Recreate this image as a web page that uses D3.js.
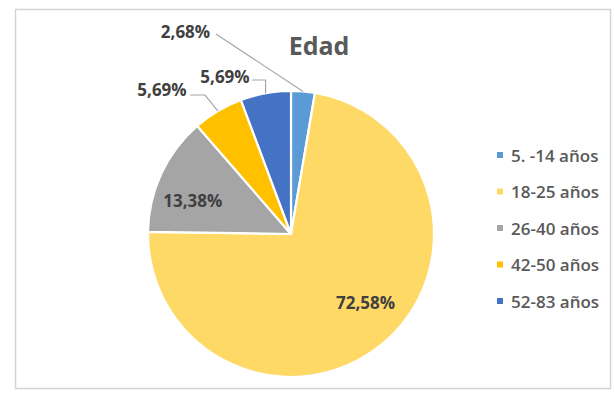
<!DOCTYPE html>
<html>
<head>
<meta charset="utf-8">
<script src="https://cdn.jsdelivr.net/npm/d3@7"></script>
<style>
  html, body { margin: 0; padding: 0; background: #fff; }
  svg { display: block; font-family: "Open Sans", "Noto Sans", sans-serif; }
</style>
</head>
<body>
<svg id="chart" width="615" height="394"></svg>
<script>
// Age groups and their share of respondents (%)
const categories = ["5. -14 años", "18-25 años", "26-40 años", "42-50 años", "52-83 años"];
const values = [2.68, 72.58, 13.38, 5.69, 5.69];
const labels = ["2,68%", "72,58%", "13,38%", "5,69%", "5,69%"];
const colors = ["#5B9BD5", "#FFD966", "#A5A5A5", "#FFC000", "#4472C4"];
const title = "Edad";

const svg = d3.select("#chart");
const W = 615, H = 394;

// chart frame
svg.append("rect").attr("x", 0).attr("y", 0).attr("width", W).attr("height", H).attr("fill", "#fff");
svg.append("rect")
  .attr("x", 15.5).attr("y", 9.5).attr("width", 595).attr("height", 379)
  .attr("fill", "#fff").attr("stroke", "#d4d4d4").attr("stroke-width", 1.5);

// title
svg.append("text")
  .attr("x", 319).attr("y", 55)
  .attr("text-anchor", "middle")
  .attr("font-size", 25).attr("font-weight", 700)
  .attr("fill", "#595959")
  .text(title);

const cx = 291, cy = 234, R = 143;
const g = svg.append("g").attr("transform", `translate(${cx},${cy})`);

const data = categories.map((c, i) => ({ cat: c, value: values[i], label: labels[i], color: colors[i] }));
const pie = d3.pie().value(d => d.value).sort(null);
const arcs = pie(data);
const arc = d3.arc().innerRadius(0).outerRadius(R);

g.selectAll("path.slice")
  .data(arcs)
  .join("path")
  .attr("class", "slice")
  .attr("d", arc)
  .attr("fill", d => d.data.color)
  .attr("stroke", "#fff")
  .attr("stroke-width", 2.2)
  .attr("stroke-linejoin", "round");

// point on the slice edge at its middle angle
function edgePoint(a, r) {
  const m = (a.startAngle + a.endAngle) / 2;
  return [r * Math.sin(m), -r * Math.cos(m)];
}

// label placement: inside labels sit on a ring, outside labels have leader lines
const labelLayout = [
  { mode: "out", at: [185.5, 31], line: [[216, 34]] },
  { mode: "in", r: 101, dx: 10, dy: -9 },
  { mode: "in", r: 105, dx: -3, dy: 11 },
  { mode: "out", at: [162, 89], line: [[190, 95], [205, 95]] },
  { mode: "out", at: [225, 76], line: [[252, 80], ["edge", 80]] }
];

const labelFont = { size: 17, weight: 700, color: "#404040" };

arcs.forEach((a, i) => {
  const L = labelLayout[i];
  let tx, ty;
  if (L.mode === "in") {
    const p = edgePoint(a, L.r);
    tx = cx + p[0] + L.dx;
    ty = cy + p[1] + L.dy;
  } else {
    const e = edgePoint(a, R);
    const ex = cx + e[0], ey = cy + e[1];
    const pts = L.line.map(p => [p[0] === "edge" ? ex : p[0], p[1]]);
    pts.push([ex, ey]);
    svg.append("path")
      .attr("d", d3.line()(pts))
      .attr("fill", "none")
      .attr("stroke", "#a6a6a6")
      .attr("stroke-width", 1.2);
    tx = L.at[0];
    ty = L.at[1];
  }
  svg.append("text")
    .attr("x", tx).attr("y", ty)
    .attr("text-anchor", "middle")
    .attr("dominant-baseline", "central")
    .attr("font-size", labelFont.size)
    .attr("font-weight", labelFont.weight)
    .attr("fill", labelFont.color)
    .text(a.data.label);
});

// legend
const legendY = d3.scalePoint().domain(categories).range([155, 301]);
const legend = svg.append("g");
categories.forEach((c, i) => {
  const y = legendY(c);
  legend.append("rect")
    .attr("x", 497).attr("y", y - 3).attr("width", 6).attr("height", 6)
    .attr("fill", colors[i]);
  legend.append("text")
    .attr("x", 511).attr("y", y)
    .attr("dominant-baseline", "central")
    .attr("font-size", 17).attr("font-weight", 600)
    .attr("fill", "#595959")
    .text(c);
});
</script>
</body>
</html>
